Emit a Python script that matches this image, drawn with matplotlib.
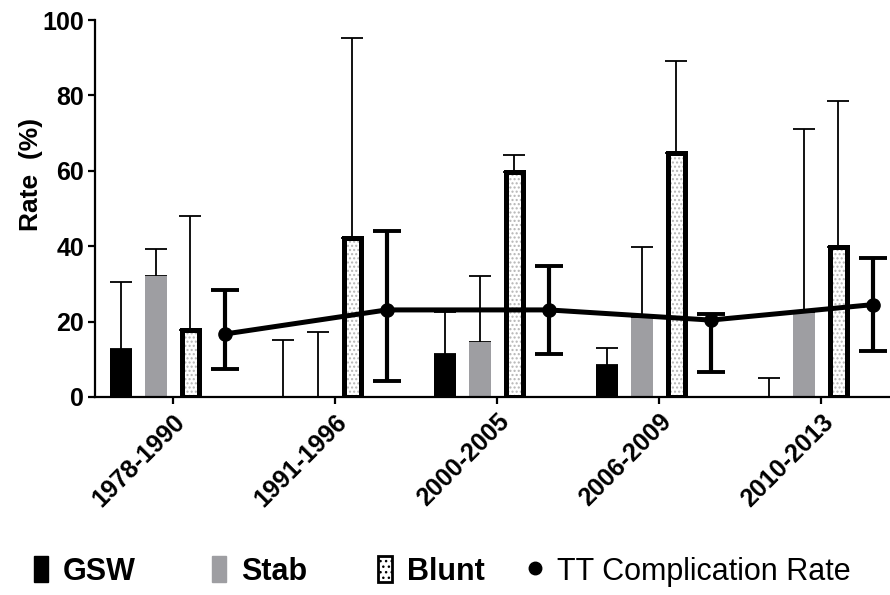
import numpy as np
import matplotlib
matplotlib.use('Agg')
import matplotlib.pyplot as plt
from matplotlib.patches import Patch
from matplotlib.lines import Line2D

# values (Rate, %)
periods = ['1978-1990', '1991-1996', '2000-2005', '2006-2009', '2010-2013']

gsw_rate = [12.6, 0.0, 11.5, 8.5, 0.0]
gsw_err = [18.0, 15.1, 11.1, 4.4, 5.1]

stab_rate = [32.1, 0.0, 14.5, 20.9, 22.2]
stab_err = [7.2, 17.2, 17.7, 19.0, 48.8]

blunt_rate = [17.8, 42.2, 59.7, 64.6, 39.7]
blunt_err = [30.3, 52.9, 4.6, 24.6, 38.8]

tt_rate = [16.7, 23.1, 23.1, 20.4, 24.5]
tt_err_low = [9.3, 18.8, 11.6, 13.7, 12.3]
tt_err_high = [11.7, 21.0, 11.7, 1.7, 12.5]

legend_names = ['GSW', 'Stab', 'Blunt', 'TT Complication Rate']

GRAY = '#9e9ea2'


def main():
    plt.rcParams['font.family'] = ['Liberation Sans', 'DejaVu Sans']
    plt.rcParams['hatch.linewidth'] = 1.0

    fig = plt.figure(figsize=(8.9, 5.95), dpi=100)
    ax = fig.add_axes([95 / 890, 1 - 397 / 595, 795 / 890, 377 / 595])

    x = np.arange(len(periods))
    step = 0.213
    bar_w = 0.136
    no_err = np.zeros(len(x))

    err_kw = dict(fmt='none', ecolor='black', elinewidth=1.3, capsize=8, capthick=1.3, zorder=1)

    # GSW
    ax.bar(x - 1.5 * step, gsw_rate, width=bar_w, color='black', zorder=2)
    ax.errorbar(x - 1.5 * step, gsw_rate, yerr=[no_err, gsw_err], **err_kw)

    # Stab
    ax.bar(x - 0.5 * step, stab_rate, width=bar_w, color=GRAY, zorder=2)
    ax.errorbar(x - 0.5 * step, stab_rate, yerr=[no_err, stab_err], **err_kw)

    # Blunt: dotted fill plus heavy black outline
    ax.bar(x + 0.5 * step, blunt_rate, width=bar_w - 0.03, facecolor='white',
           edgecolor='#b5b5b5', hatch='....', linewidth=0, zorder=2)
    ax.bar(x + 0.5 * step, blunt_rate, width=bar_w - 0.03, fill=False,
           edgecolor='black', linewidth=3.6, zorder=3)
    ax.errorbar(x + 0.5 * step, blunt_rate, yerr=[no_err, blunt_err], **err_kw)

    # TT complication rate
    ax.errorbar(x + 1.5 * step, tt_rate, yerr=[tt_err_low, tt_err_high],
                color='black', linewidth=3.6, marker='o', markersize=9.5,
                elinewidth=3.0, capsize=10, capthick=2.8, zorder=4)

    ax.set_ylim(0, 100)
    ax.set_xlim(-0.481, 4.426)
    ax.set_yticks([0, 20, 40, 60, 80, 100])
    ax.set_xticks(x)
    ax.set_xticklabels(periods, rotation=45, ha='right', rotation_mode='anchor',
                       fontsize=18, fontweight='bold')
    for lbl in ax.get_yticklabels():
        lbl.set_fontsize(18)
        lbl.set_fontweight('bold')

    ax.tick_params(axis='both', width=1.6, length=5, direction='out')
    ax.tick_params(axis='x', pad=4)
    ax.tick_params(axis='y', pad=3)

    for side in ['top', 'right']:
        ax.spines[side].set_visible(False)
    for side in ['left', 'bottom']:
        ax.spines[side].set_linewidth(1.6)

    ax.set_ylabel('Rate  (%)', fontsize=19, fontweight='bold')
    ax.yaxis.set_label_coords(-0.066, 0.59)

    handles = [
        Patch(facecolor='black', edgecolor='black'),
        Patch(facecolor=GRAY, edgecolor=GRAY),
        Patch(facecolor='white', edgecolor='black', hatch='...', linewidth=2.0),
        Line2D([], [], color='black', marker='o', linestyle='none', markersize=9),
    ]
    # one small legend per entry so each sits where it does in the original
    x_left = [34, 212, 378, 528]
    for i, (h, name) in enumerate(zip(handles, legend_names)):
        leg = fig.legend([h], [name], loc='center left',
                         bbox_to_anchor=(x_left[i] / 890, 0.04),
                         frameon=False, fontsize=22, handlelength=0.45,
                         handleheight=0.95, handletextpad=0.5,
                         borderpad=0, borderaxespad=0)
        leg.get_texts()[0].set_fontweight('bold' if i < 3 else 'normal')

    fig.savefig('out.png', dpi=100)
    plt.close(fig)


if __name__ == "__main__":
    main()
